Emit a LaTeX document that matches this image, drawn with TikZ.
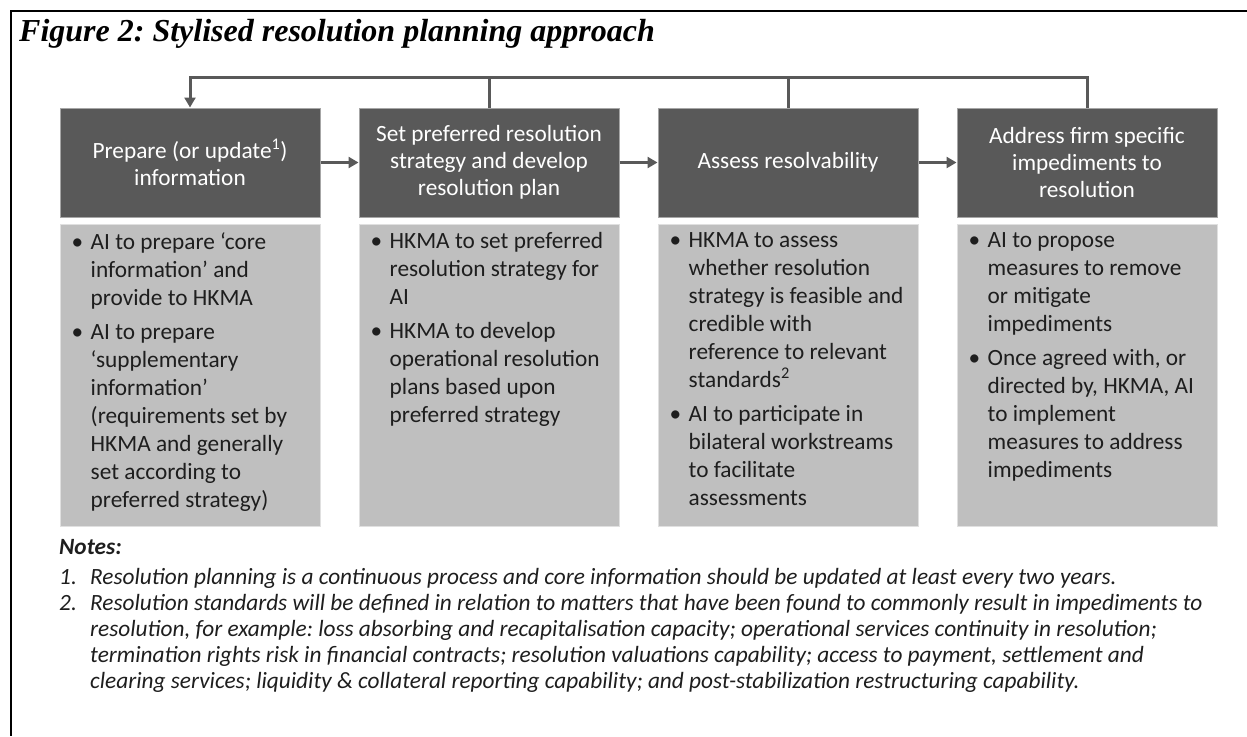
\documentclass[tikz,border=0pt]{standalone}
\usepackage{fontspec}
\setmainfont{Carlito}
\newfontfamily\titlefont{Liberation Serif}
\usetikzlibrary{positioning, arrows.meta}
\definecolor{dark}{HTML}{595959}
\definecolor{light}{HTML}{BFBFBF}
\definecolor{ink}{HTML}{1E1E1E}
\newcommand{\bul}{\makebox[19pt][l]{\textbullet}}
\newcommand{\ind}{\hspace*{19pt}}
\newcommand{\num}[1]{\makebox[31pt][l]{#1}}
\frenchspacing
\tikzset{
  >={Triangle[length=10pt,width=11pt]},
  node distance=38pt,
  hdr/.style={draw=black!35, line width=1pt, fill=dark, text=white,
    minimum width=260pt, minimum height=109pt, inner sep=0pt,
    align=center, font=\fontsize{23.3}{27}\selectfont},
  body/.style={draw=black!12, line width=1pt, fill=light,
    minimum width=260pt, minimum height=302pt, inner sep=0pt},
  txt/.style={anchor=north west, align=left, inner sep=0pt, text=ink,
    font=\fontsize{23.3}{28}\selectfont},
  conn/.style={draw=dark, line width=3pt},
}

\begin{document}
\begin{tikzpicture}[x=1pt, y=-1pt]
  \useasboundingbox (0,0) rectangle (1247,736);
  \draw[line width=2.5pt] (1247,11) -- (11,11) -- (11,736);

  \node[anchor=base west, inner sep=0pt,
    font=\titlefont\bfseries\itshape\fontsize{32}{38}\selectfont] (title) at (19,41)
    {Figure 2: Stylised resolution planning approach};

  % the four steps
  \node[hdr]            (h1) at (190,162.5) {Prepare (or update\textsuperscript{1})\\information};
  \node[hdr, right=of h1] (h2) {Set preferred resolution\\strategy and develop\\resolution plan};
  \node[hdr, right=of h2] (h3) {Assess resolvability};
  \node[hdr, right=of h3] (h4) {Address firm specific\\impediments to\\resolution};

  \node[body, below=6pt of h1] (b1) {};
  \node[body, below=6pt of h2] (b2) {};
  \node[body, below=6pt of h3] (b3) {};
  \node[body, below=6pt of h4] (b4) {};

  \node[txt] (t1) at ([shift={(12,9)}]b1.north west)
    {\bul AI to prepare ‘core\\ \ind information’ and\\ \ind provide to HKMA\\[6pt]
     \bul AI to prepare\\ \ind ‘supplementary\\ \ind information’\\ \ind (requirements set by\\
     \ind HKMA and generally\\ \ind set according to\\ \ind preferred strategy)};
  \node[txt] (t2) at ([shift={(12,9)}]b2.north west)
    {\bul HKMA to set preferred\\ \ind resolution strategy for\\ \ind AI\\[6pt]
     \bul HKMA to develop\\ \ind operational resolution\\ \ind plans based upon\\ \ind preferred strategy};
  \node[txt] (t3) at ([shift={(12,9)}]b3.north west)
    {\bul HKMA to assess\\ \ind whether resolution\\ \ind strategy is feasible and\\ \ind credible with\\
     \ind reference to relevant\\ \ind standards\textsuperscript{2}\\[6pt]
     \bul AI to participate in\\ \ind bilateral workstreams\\ \ind to facilitate\\ \ind assessments};
  \node[txt] (t4) at ([shift={(12,9)}]b4.north west)
    {\bul AI to propose\\ \ind measures to remove\\ \ind or mitigate\\ \ind impediments\\[6pt]
     \bul Once agreed with, or\\ \ind directed by, HKMA, AI\\ \ind to implement\\ \ind measures to address\\ \ind impediments};

  % flow and feedback loop
  \draw[conn, ->] (h1) -- (h2);
  \draw[conn, ->] (h2) -- (h3);
  \draw[conn, ->] (h3) -- (h4);
  \coordinate (fb) at ([yshift=30pt]h4.north);
  \draw[conn, ->] (h4.north) -- (fb) -| (h1.north);
  \draw[conn] (h2.north) -- (h2.north |- fb);
  \draw[conn] (h3.north) -- (h3.north |- fb);

  % notes
  \node[anchor=west, inner sep=0pt, text=ink,
    font=\bfseries\itshape\fontsize{23.3}{26}\selectfont] (notes) at (59,547) {Notes:};
  \node[anchor=north west, align=left, inner sep=0pt, text=ink,
    font=\itshape\fontsize{23.3}{26}\selectfont] (list) at (59,568)
    {\num{1.}Resolution planning is a continuous process and core information should be updated at least every two years.\\
     \num{2.}Resolution standards will be defined in relation to matters that have been found to commonly result in impediments to\\
     \hspace*{31pt}resolution, for example: loss absorbing and recapitalisation capacity; operational services continuity in resolution;\\
     \hspace*{31pt}termination rights risk in financial contracts; resolution valuations capability; access to payment, settlement and\\
     \hspace*{31pt}clearing services; liquidity \& collateral reporting capability; and post-stabilization restructuring capability.};
\end{tikzpicture}
\end{document}
